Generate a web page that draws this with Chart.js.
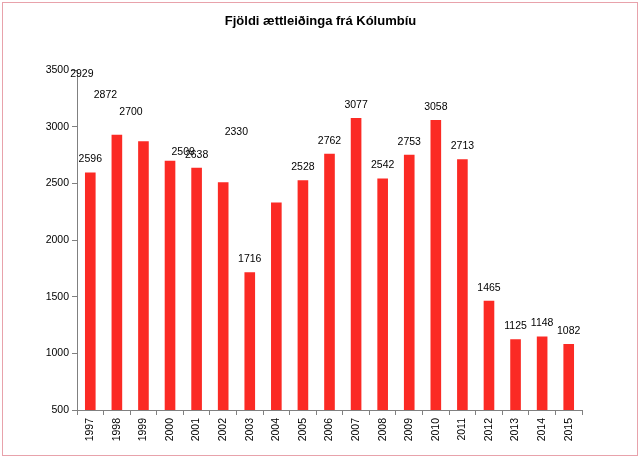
<!DOCTYPE html>
<html>
<head>
<meta charset="utf-8">
<script src="https://cdn.jsdelivr.net/npm/chart.js@4/dist/chart.umd.min.js"></script>
<style>
  html, body { margin: 0; padding: 0; background: #ffffff; }
  #wrap { width: 641px; height: 460px; }
</style>
</head>
<body>
<div id="wrap"><canvas id="c" width="641" height="460"></canvas></div>
<script>
const chartTitle = "Fjöldi ættleiðinga frá Kólumbíu";
const years = ["1997","1998","1999","2000","2001","2002","2003","2004","2005","2006","2007","2008","2009","2010","2011","2012","2013","2014","2015"];
const adoptions = [2596, 2929, 2872, 2700, 2638, 2509, 1716, 2330, 2528, 2762, 3077, 2542, 2753, 3058, 2713, 1465, 1125, 1148, 1082];
const yTicks = [500, 1000, 1500, 2000, 2500, 3000, 3500];

const FONT = "Arial, 'Liberation Sans', sans-serif";

// label displacement as it appears in the original (pixel shifts by bar index)
const labelShift = { 1: [-35, -48], 2: [-38, -33], 3: [-39, -36], 5: [-40, -17], 7: [-40, -57] };

const frame = {
  id: 'frame',
  beforeDraw(chart) {
    const ctx = chart.ctx;
    ctx.save();
    ctx.fillStyle = '#ffffff';
    ctx.fillRect(0, 0, chart.width, chart.height);
    ctx.strokeStyle = '#e8a2ab';
    ctx.lineWidth = 1;
    ctx.strokeRect(2.5, 2.5, 635, 453);
    ctx.font = "bold 13px " + FONT;
    ctx.fillStyle = '#000000';
    ctx.textAlign = 'center';
    ctx.textBaseline = 'middle';
    ctx.fillText(chartTitle, chart.width / 2, 21);
    ctx.restore();
  }
};

const valueLabels = {
  id: 'valueLabels',
  afterDatasetsDraw(chart) {
    const ctx = chart.ctx;
    const meta = chart.getDatasetMeta(0);
    ctx.save();
    ctx.font = "10.5px " + FONT;
    ctx.fillStyle = '#000000';
    ctx.textAlign = 'center';
    ctx.textBaseline = 'middle';
    meta.data.forEach((bar, i) => {
      const s = labelShift[i] || [0, 0];
      ctx.fillText(String(adoptions[i]), bar.x + s[0], bar.y - 13 + s[1]);
    });
    ctx.restore();
  }
};

new Chart(document.getElementById('c'), {
  type: 'bar',
  data: {
    labels: years,
    datasets: [{
      data: adoptions,
      backgroundColor: '#fb2a24',
      borderWidth: 0,
      barPercentage: 0.4,
      categoryPercentage: 1.0
    }]
  },
  options: {
    responsive: false,
    animation: false,
    devicePixelRatio: 1,
    layout: { padding: { left: 0, right: 59, top: 70, bottom: 0 } },
    plugins: {
      legend: { display: false },
      tooltip: { enabled: false },
      title: { display: false }
    },
    scales: {
      x: {
        type: 'category',
        offset: true,
        grid: { display: true, drawOnChartArea: false, offset: true, drawTicks: true, tickLength: 5, color: '#808080' },
        border: { display: true, color: '#808080', width: 1 },
        ticks: {
          color: '#000000',
          font: { family: FONT, size: 10.5 },
          minRotation: 90, maxRotation: 90,
          autoSkip: false,
          padding: 3
        },
        afterFit(scale) { scale.height = 50; }
      },
      y: {
        min: 500, max: 3500,
        afterBuildTicks(scale) { scale.ticks = yTicks.map(v => ({ value: v })); },
        grid: { display: true, drawOnChartArea: false, drawTicks: true, tickLength: 5, color: '#808080' },
        border: { display: true, color: '#808080', width: 1 },
        ticks: {
          color: '#000000',
          font: { family: FONT, size: 10.5 },
          padding: 3,
          callback: (v) => String(v)
        },
        afterFit(scale) { scale.width = 77; }
      }
    }
  },
  plugins: [frame, valueLabels]
});
</script>
</body>
</html>
